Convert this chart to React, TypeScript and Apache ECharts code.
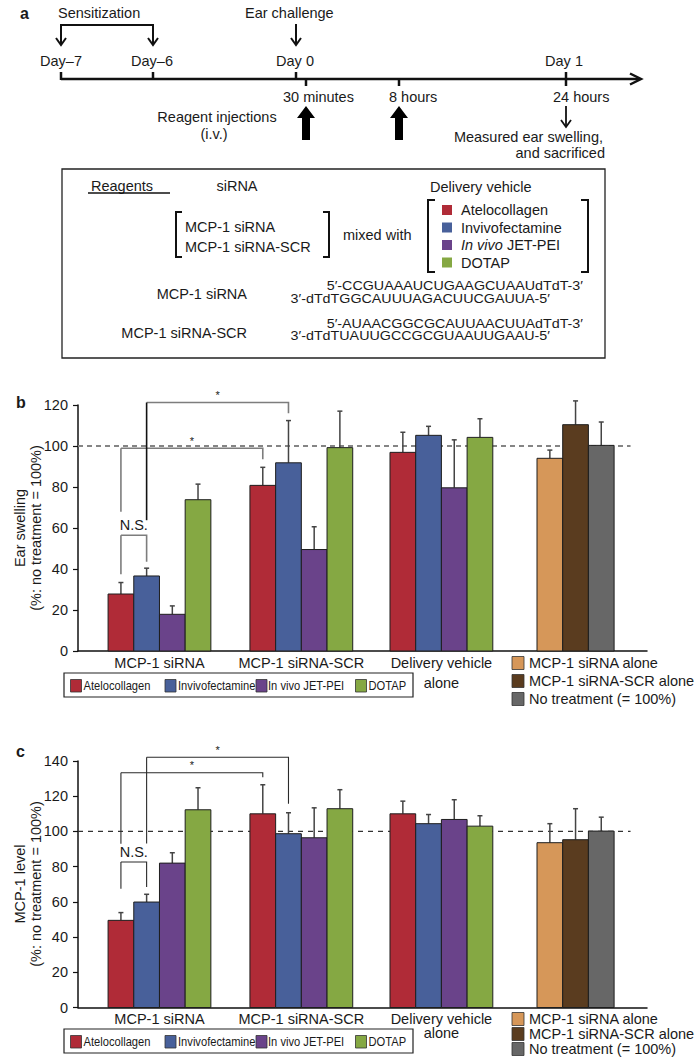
import React, { useEffect, useRef } from "react";
import * as echarts from "echarts";

const FONT = "'Liberation Sans', Arial, Helvetica, sans-serif";
const INK = "#1a1a1a";

// ---------- data ----------
const VEHICLES = ["Atelocollagen", "Invivofectamine", "In vivo JET-PEI", "DOTAP"];
const GROUP_LABELS = ["MCP-1 siRNA", "MCP-1 siRNA-SCR", "Delivery vehicle\nalone"];
const CONTROLS = ["MCP-1 siRNA alone", "MCP-1 siRNA-SCR alone", "No treatment (= 100%)"];

// Panel b: ear swelling (% of no treatment), per vehicle across the three groups
const EAR_ATELO = [27.8, 80.8, 96.9];
const EAR_ATELO_SD = [5.6, 8.8, 9.8];
const EAR_INVIVO = [36.6, 91.8, 105.2];
const EAR_INVIVO_SD = [3.8, 20.6, 4.4];
const EAR_JETPEI = [17.9, 49.5, 79.6];
const EAR_JETPEI_SD = [4.1, 11.1, 23.4];
const EAR_DOTAP = [73.8, 99.2, 104.2];
const EAR_DOTAP_SD = [7.6, 17.8, 9.1];
const EAR_CONTROLS = [94.0, 110.4, 100.3];
const EAR_CONTROLS_SD = [4.0, 11.6, 11.4];

// Panel c: MCP-1 level (% of no treatment)
const MCP_ATELO = [49.5, 110.0, 110.0];
const MCP_ATELO_SD = [4.4, 16.5, 7.2];
const MCP_INVIVO = [59.9, 98.7, 104.4];
const MCP_INVIVO_SD = [4.4, 11.9, 5.2];
const MCP_JETPEI = [82.0, 96.4, 106.8];
const MCP_JETPEI_SD = [5.9, 17.0, 11.2];
const MCP_DOTAP = [112.3, 112.9, 103.0];
const MCP_DOTAP_SD = [12.5, 10.8, 5.9];
const MCP_CONTROLS = [93.6, 95.3, 100.2];
const MCP_CONTROLS_SD = [10.8, 17.6, 7.9];

// significance brackets: [groupA, barA, groupB, barB, topValue, legA end, legB end]
const BRACKETS_B = [
  [0, 0, 0, 1, 56.5, 37.5, 43.5],
  [0, 0, 1, 0, 98.9, 67.9, 93.5],
  [0, 1, 1, 1, 121.2, 63.8, 116.0],
];
const BRACKET_TEXT_B = ["N.S.", "*", "*"];
const BRACKETS_C = [
  [0, 0, 0, 1, 82.6, 67.5, 68.4],
  [0, 0, 1, 0, 133.3, 93.0, 130.8],
  [0, 1, 1, 1, 142.1, 93.2, 115.7],
];
const BRACKET_TEXT_C = ["N.S.", "*", "*"];

const Y_MAX_B = 120;
const Y_MAX_C = 140;
const Y_STEP = 20;
const REFERENCE = 100;

// ---------- styles / layout ----------
const VEHICLE_COLORS = ["#B02B37", "#48609A", "#6A438A", "#85A843"];
const CONTROL_COLORS = ["#D69759", "#5A3C1F", "#676767"];

const BAR_PX = 25.7;
const AXIS_PX = 569;
const X_MAX = AXIS_PX / BAR_PX;
const GROUP_START = [1.17, 6.69, 12.14, 17.86];
const REF_END = 21.5;

const PANELS = [
  {
    grid: { left: 78, top: 405, width: 569, height: 246 },
    yMax: Y_MAX_B,
    catLineHeight: 20,
    refColor: "#858585",
    refWidth: 2,
    refDash: [5, 4],
    bracketColor: "#7d7d7d",
    bracketWidth: 1.6,
  },
  {
    grid: { left: 78, top: 761, width: 569, height: 246.5 },
    yMax: Y_MAX_C,
    catLineHeight: 14,
    refColor: "#333",
    refWidth: 1.2,
    refDash: [5, 5],
    bracketColor: "#2a2a2a",
    bracketWidth: 1.1,
  },
];

function txt(x: number, y: number, text: string, o: any = {}) {
  return {
    type: "text",
    x,
    y,
    rotation: o.rotation || 0,
    scaleX: o.scaleX || 1,
    style: {
      text,
      fontFamily: FONT,
      fontSize: o.size || 14.5,
      fontWeight: o.weight || "normal",
      fontStyle: o.style || "normal",
      fill: o.color || INK,
      align: o.align || "left",
      textAlign: o.align || "left",
      verticalAlign: "middle",
      textVerticalAlign: "middle",
      lineHeight: o.lineHeight,
      rich: o.rich,
    },
  };
}
function ln(x1: number, y1: number, x2: number, y2: number, w = 2, color = "#111") {
  return { type: "line", shape: { x1, y1, x2, y2 }, style: { stroke: color, lineWidth: w } };
}
function pl(points: number[][], w = 2, color = "#111") {
  return { type: "polyline", shape: { points }, style: { stroke: color, lineWidth: w, fill: "none" } };
}
function rc(x: number, y: number, w: number, h: number, fill: string, stroke = "none", lw = 1) {
  return { type: "rect", shape: { x, y, width: w, height: h }, style: { fill, stroke, lineWidth: lw } };
}
function downArrow(x: number, y1: number, y2: number, w = 2) {
  return [ln(x, y1, x, y2, w), pl([[x - 5, y2 - 7], [x, y2], [x + 5, y2 - 7]], w)];
}
function thickUp(x: number) {
  return {
    type: "polygon",
    shape: {
      points: [
        [x, 106], [x + 9, 118], [x + 4, 118], [x + 4, 140],
        [x - 4, 140], [x - 4, 118], [x - 9, 118],
      ],
    },
    style: { fill: "#000" },
  };
}

function panelA() {
  const els: any[] = [];
  els.push(txt(20, 13, "a", { weight: "bold", size: 16 }));
  els.push(txt(58, 13, "Sensitization"));
  els.push(pl([[61, 44], [61, 25], [153, 25], [153, 44]], 2));
  els.push(pl([[56, 38], [61, 45], [66, 38]], 2));
  els.push(pl([[148, 38], [153, 45], [158, 38]], 2));
  els.push(txt(245, 13, "Ear challenge"));
  els.push(...downArrow(296, 24, 45));
  els.push(txt(61, 61, "Day–7", { align: "center" }));
  els.push(txt(152, 61, "Day–6", { align: "center" }));
  els.push(txt(295, 61, "Day 0", { align: "center" }));
  els.push(txt(564, 61, "Day 1", { align: "center" }));
  els.push(ln(61, 79, 639, 79, 2.5));
  els.push(pl([[630, 73.5], [641, 79], [630, 84.5]], 2.5));
  els.push(ln(61, 72, 61, 80, 2.5));
  els.push(ln(153, 72, 153, 80, 2.5));
  els.push(ln(296, 72, 296, 80, 2.5));
  els.push(ln(306, 78, 306, 86, 2.5));
  els.push(ln(399, 78, 399, 86, 2.5));
  els.push(ln(566, 72, 566, 86, 2.5));
  els.push(txt(283, 97, "30 minutes"));
  els.push(txt(389, 97, "8 hours"));
  els.push(txt(553, 97, "24 hours"));
  els.push(thickUp(306));
  els.push(thickUp(399));
  els.push(txt(217, 117, "Reagent injections", { align: "center" }));
  els.push(txt(214, 134, "(i.v.)", { align: "center" }));
  els.push(...downArrow(566, 106, 127, 1.8));
  els.push(txt(603, 137, "Measured ear swelling,", { align: "right" }));
  els.push(txt(605, 153, "and sacrificed", { align: "right" }));

  // reagent box
  els.push(rc(62, 169, 543, 189, "none", "#222", 1.3));
  els.push(txt(91, 186, "Reagents"));
  els.push(ln(88, 193, 170, 193, 1.3));
  els.push(txt(237, 186, "siRNA", { align: "center" }));
  els.push(txt(430, 187, "Delivery vehicle"));
  els.push(pl([[182, 212], [176, 212], [176, 257], [182, 257]], 2));
  els.push(pl([[323, 212], [329, 212], [329, 257], [323, 257]], 2));
  els.push(txt(185, 227, "MCP-1 siRNA"));
  els.push(txt(185, 247, "MCP-1 siRNA-SCR"));
  els.push(txt(343, 235, "mixed with"));
  els.push(pl([[435, 200], [428, 200], [428, 272], [435, 272]], 2));
  els.push(pl([[581, 200], [588, 200], [588, 272], [581, 272]], 2));
  const rows = [210, 227.5, 245, 262.5];
  VEHICLES.forEach((v, i) => {
    els.push(rc(442, rows[i] - 5, 10, 10, VEHICLE_COLORS[i]));
    if (i === 2) {
      els.push(
        txt(461, rows[i], "{i|In vivo} JET-PEI", {
          rich: { i: { fontStyle: "italic", fontSize: 14.5, fontFamily: FONT, fill: INK } },
        })
      );
    } else {
      els.push(txt(461, rows[i], v));
    }
  });
  const seq = { align: "right", size: 13, scaleX: 1.1 };
  els.push(txt(247, 294, "MCP-1 siRNA", { align: "right" }));
  els.push(txt(583, 286, "5′-CCGUAAAUCUGAAGCUAAUdTdT-3′", seq));
  els.push(txt(550, 298.5, "3′-dTdTGGCAUUUAGACUUCGAUUA-5′", seq));
  els.push(txt(247, 333, "MCP-1 siRNA-SCR", { align: "right" }));
  els.push(txt(583, 323.5, "5′-AUAACGGCGCAUUAACUUAdTdT-3′", seq));
  els.push(txt(550, 336, "3′-dTdTUAUUGCCGCGUAAUUGAAU-5′", seq));
  return els;
}

function panelExtras(label: string, labelY: number, titleTop: string, centerY: number, boxY: number, rowsY: number[]) {
  const els: any[] = [];
  els.push(txt(16, labelY, label, { weight: "bold", size: 16 }));
  els.push(
    txt(28, centerY, titleTop + "\n(%: no treatment = 100%)", {
      align: "center",
      rotation: Math.PI / 2,
      lineHeight: 16,
    })
  );
  // vehicle legend box
  els.push(rc(64, boxY, 349, 24, "none", "#222", 1.2));
  const sx = [70.5, 165, 256, 355.5];
  const tx = [83.5, 178, 268, 368.5];
  const cy = boxY + 12.5;
  VEHICLES.forEach((v, i) => {
    els.push(rc(sx[i], cy - 6, 11, 12.5, VEHICLE_COLORS[i], "#333", 0.8));
    els.push(txt(tx[i], cy, v, { size: 12, scaleX: 0.93 }));
  });
  CONTROLS.forEach((c, i) => {
    els.push(rc(512, rowsY[i] - 6.5, 12, 13, CONTROL_COLORS[i], "#333", 0.8));
    els.push(txt(529, rowsY[i], c));
  });
  return els;
}

function barSeries(pi: number, name: string, starts: number[], values: number[], sds: number[], color: string) {
  return {
    type: "custom",
    name,
    xAxisIndex: pi,
    yAxisIndex: pi,
    z: 3,
    data: values.map((v, i) => [starts[i], v, sds[i]]),
    renderItem: (_p: any, api: any) => {
      const x0 = api.value(0);
      const v = api.value(1);
      const e = api.value(2);
      const b = api.coord([x0, 0]);
      const t = api.coord([x0 + 1, v]);
      const et = api.coord([x0 + 0.5, v + e]);
      return {
        type: "group",
        children: [
          { type: "line", shape: { x1: et[0], y1: t[1], x2: et[0], y2: et[1] }, style: { stroke: "#444", lineWidth: 1.5 } },
          { type: "line", shape: { x1: et[0] - 2.5, y1: et[1], x2: et[0] + 2.5, y2: et[1] }, style: { stroke: "#444", lineWidth: 1.5 } },
          {
            type: "rect",
            shape: { x: b[0], y: t[1], width: t[0] - b[0], height: b[1] - t[1] },
            style: { fill: color, stroke: "#1e1e1e", lineWidth: 1 },
          },
        ],
      };
    },
  };
}

function panelSeries(pi: number, vehicleVals: number[][], vehicleSds: number[][], ctrl: number[], ctrlSd: number[], brackets: number[][], bracketText: string[]) {
  const P = PANELS[pi];
  const s: any[] = [];
  s.push({
    type: "custom",
    xAxisIndex: pi,
    yAxisIndex: pi,
    z: 1,
    data: [[0, REF_END, REFERENCE]],
    renderItem: (_p: any, api: any) => {
      const a = api.coord([api.value(0), api.value(2)]);
      const b = api.coord([api.value(1), api.value(2)]);
      return {
        type: "line",
        shape: { x1: a[0], y1: a[1], x2: b[0], y2: b[1] },
        style: { stroke: P.refColor, lineWidth: P.refWidth, lineDash: P.refDash },
      };
    },
  });
  VEHICLES.forEach((v, vi) => {
    const starts = GROUP_START.slice(0, 3).map((g) => g + vi);
    s.push(barSeries(pi, v, starts, vehicleVals[vi], vehicleSds[vi], VEHICLE_COLORS[vi]));
  });
  CONTROLS.forEach((c, ci) => {
    s.push(barSeries(pi, c, [GROUP_START[3] + ci], [ctrl[ci]], [ctrlSd[ci]], CONTROL_COLORS[ci]));
  });
  // brackets
  s.push({
    type: "custom",
    xAxisIndex: pi,
    yAxisIndex: pi,
    z: 4,
    data: brackets.map((b, i) => [GROUP_START[b[0]] + b[1] + 0.5, GROUP_START[b[2]] + b[3] + 0.5, b[4], b[5], b[6], i]),
    renderItem: (_p: any, api: any) => {
      const xa = api.value(0), xb = api.value(1), top = api.value(2);
      const ea = api.value(3), eb = api.value(4), idx = api.value(5);
      const pa = api.coord([xa, top]);
      const pb = api.coord([xb, top]);
      const la = api.coord([xa, ea]);
      const lb = api.coord([xb, eb]);
      const label = bracketText[idx];
      const isStar = label === "*";
      const legColor = pi === 0 && idx === 2 ? "#111" : P.bracketColor;
      const st = { stroke: P.bracketColor, lineWidth: P.bracketWidth, fill: "none" };
      return {
        type: "group",
        children: [
          { type: "polyline", shape: { points: [[pa[0], pa[1]], [pb[0], pb[1]], [lb[0], lb[1]]] }, style: st },
          { type: "line", shape: { x1: la[0], y1: la[1], x2: pa[0], y2: pa[1] }, style: { stroke: legColor, lineWidth: P.bracketWidth } },
          {
            type: "text",
            x: (pa[0] + pb[0]) / 2,
            y: pa[1] - (isStar ? 2 : 3),
            style: {
              text: label,
              fontFamily: FONT,
              fontSize: isStar ? 11 : 14.5,
              fill: INK,
              align: "center",
              textAlign: "center",
              verticalAlign: "bottom",
              textVerticalAlign: "bottom",
            },
          },
        ],
      };
    },
  });
  // group labels
  s.push({
    type: "custom",
    xAxisIndex: pi,
    yAxisIndex: pi,
    z: 4,
    data: GROUP_LABELS.map((_, g) => [GROUP_START[g] + 2, g]),
    renderItem: (_p: any, api: any) => {
      const c = api.coord([api.value(0), 0]);
      const lh = P.catLineHeight;
      return {
        type: "text",
        x: c[0],
        y: c[1] + 11.5 - lh / 2,
        style: {
          text: GROUP_LABELS[api.value(1)],
          fontFamily: FONT,
          fontSize: 14.5,
          lineHeight: lh,
          fill: INK,
          align: "center",
          textAlign: "center",
          verticalAlign: "top",
          textVerticalAlign: "top",
        },
      };
    },
  });
  return s;
}

function buildOption() {
  const axisFont = { fontFamily: FONT, fontSize: 14.5, color: INK };
  return {
    animation: false,
    backgroundColor: "#fff",
    grid: PANELS.map((p) => ({ ...p.grid, containLabel: false })),
    xAxis: PANELS.map((_, i) => ({
      type: "value",
      gridIndex: i,
      min: 0,
      max: X_MAX,
      axisLine: { show: true, onZero: false, lineStyle: { color: "#111", width: 1.5 } },
      axisTick: { show: false },
      axisLabel: { show: false },
      splitLine: { show: false },
    })),
    yAxis: PANELS.map((p, i) => ({
      type: "value",
      gridIndex: i,
      min: 0,
      max: p.yMax,
      interval: Y_STEP,
      axisLine: { show: true, lineStyle: { color: "#111", width: 1.5 } },
      axisTick: { show: true, length: 5, lineStyle: { color: "#111", width: 1.2 } },
      axisLabel: { ...axisFont, margin: 10 },
      splitLine: { show: false },
    })),
    series: [
      ...panelSeries(
        0,
        [EAR_ATELO, EAR_INVIVO, EAR_JETPEI, EAR_DOTAP],
        [EAR_ATELO_SD, EAR_INVIVO_SD, EAR_JETPEI_SD, EAR_DOTAP_SD],
        EAR_CONTROLS,
        EAR_CONTROLS_SD,
        BRACKETS_B,
        BRACKET_TEXT_B
      ),
      ...panelSeries(
        1,
        [MCP_ATELO, MCP_INVIVO, MCP_JETPEI, MCP_DOTAP],
        [MCP_ATELO_SD, MCP_INVIVO_SD, MCP_JETPEI_SD, MCP_DOTAP_SD],
        MCP_CONTROLS,
        MCP_CONTROLS_SD,
        BRACKETS_C,
        BRACKET_TEXT_C
      ),
    ],
    graphic: [
      ...panelA(),
      ...panelExtras("b", 402, "Ear swelling", 528, 673, [663, 681, 699]),
      ...panelExtras("c", 751, "MCP-1 level", 884, 1029, [1019, 1034, 1049]),
    ],
  };
}

export default function App() {
  const ref = useRef<HTMLDivElement>(null);
  useEffect(() => {
    document.body.style.margin = "0";
    const chart = echarts.init(ref.current!, undefined, { renderer: "svg" });
    chart.setOption(buildOption() as any);
    return () => chart.dispose();
  }, []);
  return <div ref={ref} style={{ width: 700, height: 1058 }} />;
}
